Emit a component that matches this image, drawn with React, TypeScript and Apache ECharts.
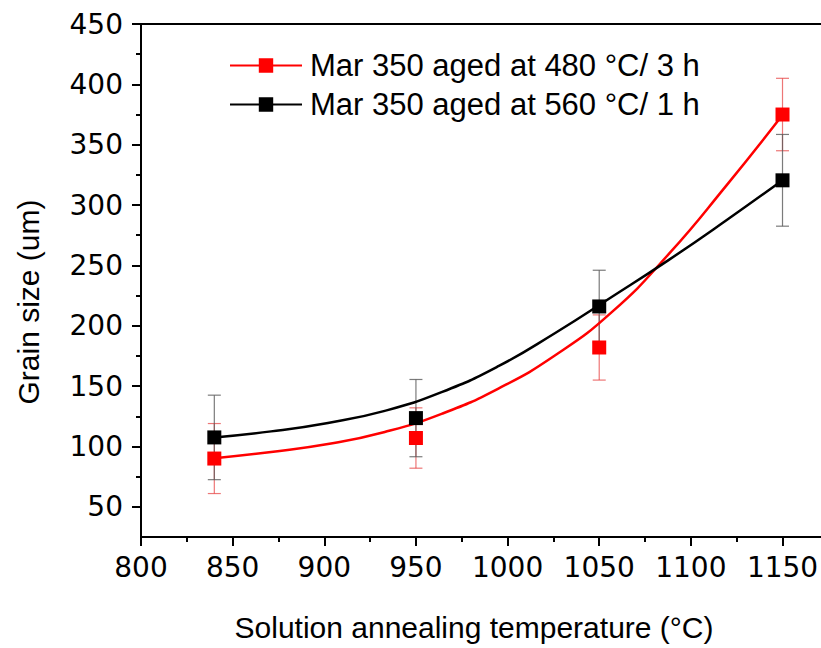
import React, { useEffect, useRef } from "react";
import * as echarts from "echarts";

// Measured points (solution annealing temperature, °C)
const temps = [840, 950, 1050, 1150];
const grain480 = [90, 107, 182, 375];
const err480 = [29, 25, 27, 30];
const grain560 = [107.5, 123.5, 216, 320.5];
const err560 = [35, 32, 30, 38];

// Fitted curves (evenly spaced readings)
const fitTemps = [840, 871, 902, 933, 964, 995, 1026, 1057, 1088, 1119, 1150];
const fit480 = [90.3, 95.5, 102, 112, 127, 148, 175.5, 211.5, 259.5, 315.5, 374.6];
const fit560 = [107.5, 112.5, 119.5, 129.5, 145, 166.5, 194, 224, 254.6, 287, 320.6];

const seriesNames = ["Mar 350 aged at 480 °C/ 3 h", "Mar 350 aged at 560 °C/ 1 h"];
const xTitle = "Solution annealing temperature (°C)";
const yTitle = "Grain size (um)";

const xMajor = [800, 850, 900, 950, 1000, 1050, 1100, 1150];
const xMinor = [825, 875, 925, 975, 1025, 1075, 1125];
const yMajor = [50, 100, 150, 200, 250, 300, 350, 400, 450];
const yMinor = [75, 125, 175, 225, 275, 325, 375, 425];

const FONT = 'Arial, "Liberation Sans", Helvetica, sans-serif';
const TICK_FONT = '"DejaVu Sans", Arial, sans-serif';
const RED = "#ff0000";
const BLACK = "#000000";

function errorBars(values: number[], errs: number[], color: string, z: number) {
  return {
    type: "custom",
    name: "err" + color,
    silent: true,
    z,
    xAxisIndex: 0,
    yAxisIndex: 0,
    data: temps.map((t, i) => [t, values[i] - errs[i], values[i] + errs[i]]),
    encode: { x: 0, y: [1, 2] },
    renderItem: (_params: any, api: any) => {
      const lo = api.coord([api.value(0), api.value(1)]);
      const hi = api.coord([api.value(0), api.value(2)]);
      const hw = 6.5;
      const st = { stroke: color, lineWidth: 1.2 };
      return {
        type: "group",
        children: [
          { type: "line", shape: { x1: lo[0], y1: lo[1], x2: hi[0], y2: hi[1] }, style: st },
          { type: "line", shape: { x1: lo[0] - hw, y1: lo[1], x2: lo[0] + hw, y2: lo[1] }, style: st },
          { type: "line", shape: { x1: hi[0] - hw, y1: hi[1], x2: hi[0] + hw, y2: hi[1] }, style: st },
        ],
      };
    },
  };
}

export default function App() {
  const ref = useRef<HTMLDivElement>(null);
  useEffect(() => {
    if (!ref.current) return;
    const chart = echarts.init(ref.current, null, { renderer: "svg" });
    const axisLineStyle = { color: BLACK, width: 2 };
    const plain = (v: number) => String(v);
    const option: any = {
      animation: false,
      backgroundColor: "#ffffff",
      grid: { left: 141, right: 0, top: 24, bottom: 111, containLabel: false, outerBoundsMode: "none" },
      legend: {
        orient: "vertical",
        left: 229,
        top: 50,
        padding: 0,
        itemGap: 8,
        itemWidth: 72,
        itemHeight: 18,
        data: seriesNames,
        textStyle: { fontFamily: FONT, fontSize: 31, color: BLACK, padding: [0, 0, 0, 3] },
      },
      xAxis: [
        {
          type: "value",
          position: "bottom",
          min: 800,
          max: 1171,
          axisLine: { show: true, lineStyle: axisLineStyle },
          axisTick: { show: true, inside: false, length: 9, lineStyle: { color: BLACK, width: 2 }, customValues: xMajor },
          axisLabel: { show: true, customValues: xMajor, formatter: plain, margin: 16, fontFamily: TICK_FONT, fontSize: 28, color: BLACK },
          splitLine: { show: false },
        },
        {
          type: "value",
          position: "bottom",
          min: 800,
          max: 1171,
          axisLine: { show: false },
          axisTick: { show: true, inside: false, length: 5, lineStyle: { color: BLACK, width: 2 }, customValues: xMinor },
          axisLabel: { show: false },
          splitLine: { show: false },
        },
        {
          type: "value",
          position: "top",
          min: 800,
          max: 1171,
          axisLine: { show: true, lineStyle: axisLineStyle },
          axisTick: { show: false },
          axisLabel: { show: false },
          splitLine: { show: false },
        },
      ],
      yAxis: [
        {
          type: "value",
          position: "left",
          min: 25,
          max: 450,
          axisLine: { show: true, lineStyle: axisLineStyle },
          axisTick: { show: true, inside: false, length: 9, lineStyle: { color: BLACK, width: 2 }, customValues: yMajor },
          axisLabel: { show: true, customValues: yMajor, formatter: plain, margin: 18, fontFamily: TICK_FONT, fontSize: 28, color: BLACK },
          splitLine: { show: false },
        },
        {
          type: "value",
          position: "left",
          min: 25,
          max: 450,
          axisLine: { show: false },
          axisTick: { show: true, inside: false, length: 5, lineStyle: { color: BLACK, width: 2 }, customValues: yMinor },
          axisLabel: { show: false },
          splitLine: { show: false },
        },
      ],
      graphic: [
        {
          type: "text",
          x: 474,
          y: 627,
          style: { text: xTitle, fontFamily: FONT, fontSize: 30, fill: BLACK, align: "center", verticalAlign: "middle" },
        },
        {
          type: "text",
          x: 28,
          y: 302,
          rotation: Math.PI / 2,
          style: { text: yTitle, fontFamily: FONT, fontSize: 30, fill: BLACK, align: "center", verticalAlign: "middle" },
        },
      ],
      series: [
        errorBars(grain480, err480, "rgba(230,60,60,0.7)", 1),
        errorBars(grain560, err560, "rgba(90,90,90,0.8)", 1),
        {
          type: "line",
          name: seriesNames[0],
          data: fitTemps.map((t, i) => [t, fit480[i]]),
          smooth: 0.5,
          showSymbol: false,
          symbol: "rect",
          color: RED,
          itemStyle: { color: RED },
          lineStyle: { color: RED, width: 2.5 },
          z: 2,
          silent: true,
        },
        {
          type: "line",
          name: seriesNames[1],
          data: fitTemps.map((t, i) => [t, fit560[i]]),
          smooth: 0.5,
          showSymbol: false,
          symbol: "rect",
          color: BLACK,
          itemStyle: { color: BLACK },
          lineStyle: { color: BLACK, width: 2.5 },
          z: 2,
          silent: true,
        },
        {
          type: "scatter",
          name: "pts480",
          data: temps.map((t, i) => [t, grain480[i]]),
          symbol: "rect",
          symbolSize: 14,
          itemStyle: { color: RED, opacity: 1 },
          z: 3,
          silent: true,
        },
        {
          type: "scatter",
          name: "pts560",
          data: temps.map((t, i) => [t, grain560[i]]),
          symbol: "rect",
          symbolSize: 14,
          itemStyle: { color: BLACK, opacity: 1 },
          z: 3,
          silent: true,
        },
      ],
    };
    chart.setOption(option);
    return () => chart.dispose();
  }, []);
  return (
    <div
      ref={ref}
      style={{ position: "fixed", left: 0, top: 0, width: 821, height: 648, background: "#fff" }}
    />
  );
}
